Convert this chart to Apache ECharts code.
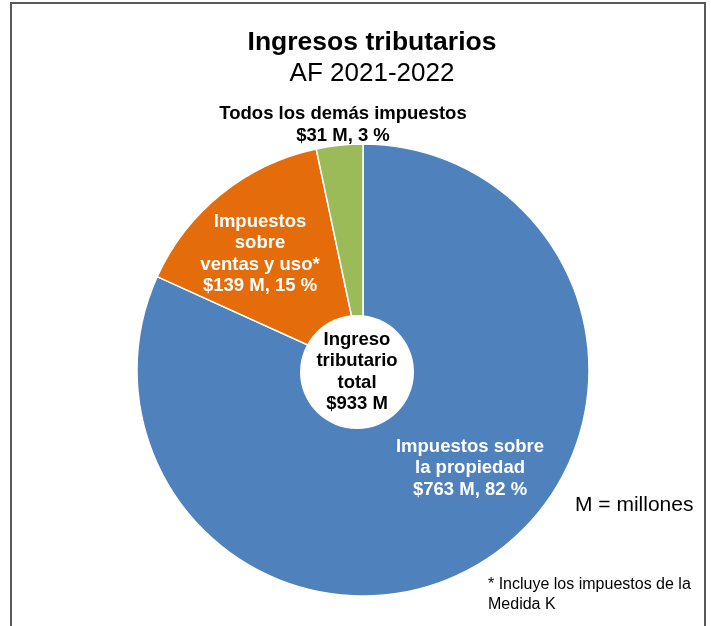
<!DOCTYPE html>
<html>
<head>
<meta charset="utf-8">
<script src="https://cdn.jsdelivr.net/npm/echarts@6/dist/echarts.min.js"></script>
<style>
  html, body { margin: 0; padding: 0; background: #fff; }
  #main { width: 711px; height: 626px; }
</style>
</head>
<body>
<div id="main"></div>
<script>
var categories = ['Impuestos sobre\nla propiedad', 'Impuestos\nsobre\nventas y uso*', 'Todos los demás impuestos'];
var values = [763, 139, 31];     // millones
var percents = [82, 15, 3];
var colors = ['#4F81BD', '#E46C0A', '#9BBB59'];
var totalLabel = 'Ingreso\ntributario\ntotal';
var totalValue = 933;

// donde va cada etiqueta (centro del texto)
var labelPos = [[470, 468], [260, 254], [343, 125]];

var myChart = echarts.init(document.getElementById('main'));

var pieData = [];
for (var i = 0; i < categories.length; i++) {
  pieData.push({
    name: categories[i],
    value: values[i],
    itemStyle: { color: colors[i] },
    label: { color: i == 2 ? '#000' : '#fff' }
  });
}

var option = {
  animation: false,
  backgroundColor: '#fff',
  title: {
    text: 'Ingresos tributarios',
    subtext: 'AF 2021-2022',
    left: 367,
    top: 24,
    textAlign: 'center',
    itemGap: 5,
    textStyle: { fontFamily: 'Liberation Sans', fontWeight: 'bold', fontSize: 26.5, color: '#000' },
    subtextStyle: { fontFamily: 'Liberation Sans', fontSize: 26, color: '#000' }
  },
  graphic: [
    { type: 'rect', shape: { x: 11, y: 3, width: 694, height: 660 }, style: { fill: 'none', stroke: '#595959', lineWidth: 2 }, z: 100 },
    { type: 'text', left: 575, top: 495, style: { text: 'M = millones', fontFamily: 'Liberation Sans', fontSize: 21, fill: '#000' } },
    { type: 'text', left: 488, top: 575, style: { text: '* Incluye los impuestos de la\nMedida K', fontFamily: 'Liberation Sans', fontSize: 16, lineHeight: 20, fill: '#000' } }
  ],
  series: [
    {
      type: 'pie',
      center: [363, 370],
      radius: [0, 226],
      startAngle: 90,
      clockwise: true,
      itemStyle: { borderColor: '#fff', borderWidth: 1.5 },
      labelLine: { show: false },
      label: {
        show: true,
        position: 'inside',
        fontFamily: 'Liberation Sans',
        fontWeight: 'bold',
        fontSize: 18.5,
        lineHeight: 21.5,
        align: 'center',
        formatter: function (p) {
          return p.name + '\n$' + p.value + ' M, ' + percents[p.dataIndex] + ' %';
        }
      },
      labelLayout: function (p) {
        var pos = labelPos[p.dataIndex];
        return { x: pos[0], y: pos[1], align: 'center', verticalAlign: 'middle' };
      },
      data: pieData
    },
    {
      type: 'pie',
      center: [357, 372],
      radius: [0, 57],
      silent: true,
      itemStyle: { color: '#fff' },
      label: {
        show: true,
        position: 'center',
        fontFamily: 'Liberation Sans',
        fontWeight: 'bold',
        fontSize: 18.5,
        lineHeight: 21.5,
        color: '#000',
        formatter: function (p) { return p.name + '\n$' + p.value + ' M'; }
      },
      labelLine: { show: false },
      data: [{ name: totalLabel, value: totalValue }]
    }
  ]
};
myChart.setOption(option);
</script>
</body>
</html>
